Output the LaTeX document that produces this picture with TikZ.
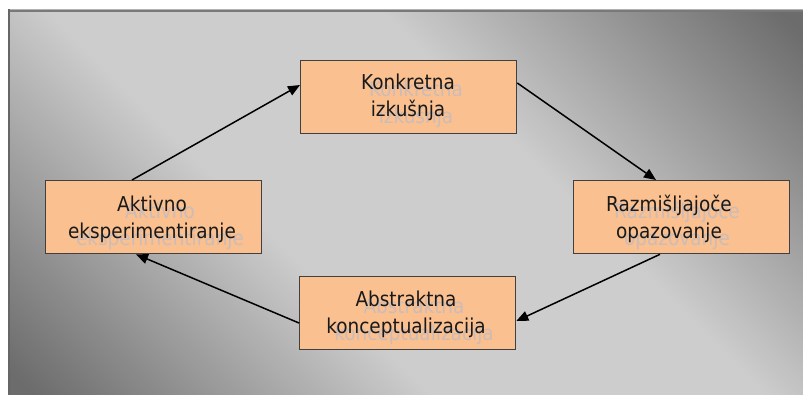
\documentclass[tikz,border=0pt]{standalone}
\usepackage{fontspec}
\setmainfont{DejaVu Sans}[FakeStretch=0.9]
\usetikzlibrary{arrows.meta,calc}
\definecolor{peach}{HTML}{FAC090}
\definecolor{bgdark}{HTML}{6C6C6C}
\definecolor{bglight}{HTML}{CDCDCD}
\definecolor{shadowc}{HTML}{B4BACC}
\pgfdeclareverticalshading{bgsh}{100bp}{color(0bp)=(bgdark); color(16bp)=(bgdark); color(40bp)=(bglight); color(60bp)=(bglight); color(84bp)=(bgdark); color(100bp)=(bgdark)}
\begin{document}
\begin{tikzpicture}[x=1pt,y=-1pt,
  box/.style={draw=black!75, line width=1.3pt, fill=peach, minimum width=216pt, minimum height=73pt, inner sep=0pt, anchor=north west},
  lbl/.style={font=\fontsize{20.5}{27}\selectfont, align=center, inner sep=0pt, text=black!90},
  shd/.style={lbl, text=shadowc, text opacity=0.65},
  conn/.style={line width=1.5pt, -{Triangle[length=12pt,width=10pt]}}]
\useasboundingbox (0,0) rectangle (803,394);
\shade[shading=bgsh, shading angle=-45] (8,9) rectangle (803,394);
\draw[gray!60, line width=1pt] (8,9.5) -- (803,9.5);
\draw[gray!95!black, line width=1.5pt] (8,11) -- (803,11);
\draw[black!60, line width=2pt] (9,9) -- (9,394);

\node[box] (konk) at (300,60) {};
\node[box] (razm) at (573,180) {};
\node[box] (aktiv) at (45,180) {};
\node[box] (abst) at (299,276) {};

\node[shd] (konks) at (416,105) {\strut Konkretna\\\strut izkušnja};
\node[lbl] (konkt) at (408,98) {\strut Konkretna\\\strut izkušnja};
\node[shd] (razms) at (677,227) {\strut Razmišljajoče\\\strut opazovanje};
\node[lbl] (razmt) at (669,220) {\strut Razmišljajoče\\\strut opazovanje};
\node[shd] (aktivs) at (160,227) {\strut Aktivno\\\strut eksperimentiranje};
\node[lbl] (aktivt) at (152,220) {\strut Aktivno\\\strut eksperimentiranje};
\node[shd] (absts) at (414,322) {\strut Abstraktna\\\strut konceptualizacija};
\node[lbl] (abstt) at (406,315) {\strut Abstraktna\\\strut konceptualizacija};

\draw[conn] ($(aktiv.north west)+(87,0)$) -- ($(konk.north west)+(0,25)$);
\draw[conn] ($(konk.north east)+(0,23)$) -- ($(razm.north west)+(83,0)$);
\draw[conn] ($(razm.south west)+(87,0)$) -- ($(abst.north east)+(0,45)$);
\draw[conn] ($(abst.north west)+(0,47)$) -- ($(aktiv.south west)+(91,0)$);
\end{tikzpicture}
\end{document}
